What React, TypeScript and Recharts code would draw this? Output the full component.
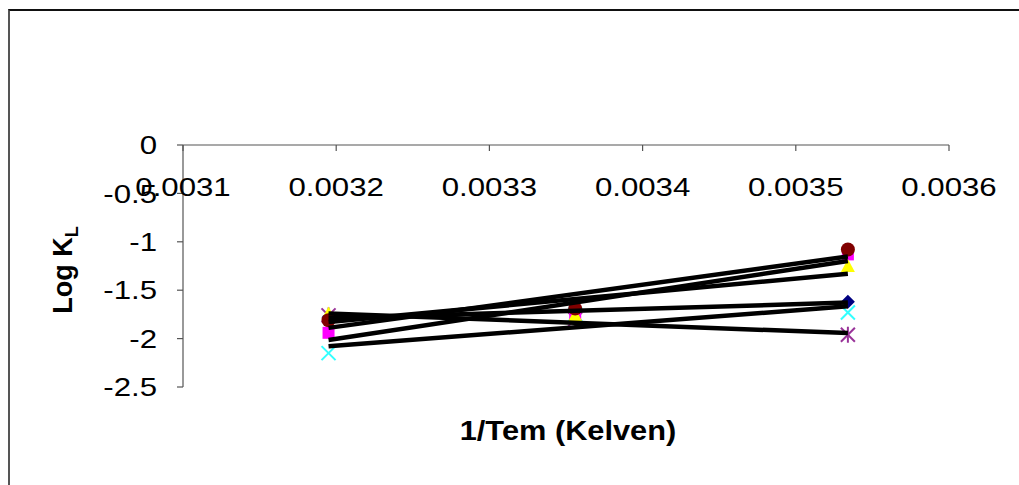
import { ScatterChart, Scatter, XAxis, YAxis, Label } from "recharts";

// 1/T for 313 K, 298 K, 283 K
const invTemp = [0.003195, 0.003356, 0.003534];

const diamondVals = [-1.78, -1.73, -1.62];
const crossVals = [-2.15, -1.75, -1.73];
const starVals = [-1.76, -1.8, -1.96];
const squareVals = [-1.94, -1.77, -1.13];
const triangleVals = [-1.74, -1.76, -1.25];
const circleVals = [-1.81, -1.69, -1.08];

const xTicks = [0.0031, 0.0032, 0.0033, 0.0034, 0.0035, 0.0036];
const yTicks = [0, -0.5, -1, -1.5, -2, -2.5];

const toPts = (vals: number[]) => vals.map((y, i) => ({ x: invTemp[i], y }));

const FONT = "'Liberation Sans', Arial, sans-serif";

const Diamond = (p: any) => (
  <polygon
    points={`${p.cx},${p.cy - 7} ${p.cx + 7},${p.cy} ${p.cx},${p.cy + 7} ${p.cx - 7},${p.cy}`}
    fill="#000080"
  />
);
const Square = (p: any) => (
  <rect x={p.cx - 6} y={p.cy - 6} width={12} height={12} fill="#ff00ff" />
);
const Triangle = (p: any) => (
  <polygon
    points={`${p.cx},${p.cy - 7} ${p.cx + 7},${p.cy + 6} ${p.cx - 7},${p.cy + 6}`}
    fill="#ffff00"
  />
);
const Cross = (p: any) => (
  <g stroke="#33ffff" strokeWidth={2}>
    <line x1={p.cx - 7} y1={p.cy - 7} x2={p.cx + 7} y2={p.cy + 7} />
    <line x1={p.cx - 7} y1={p.cy + 7} x2={p.cx + 7} y2={p.cy - 7} />
  </g>
);
const Star = (p: any) => (
  <g stroke="#993399" strokeWidth={2}>
    <line x1={p.cx - 7} y1={p.cy - 7} x2={p.cx + 7} y2={p.cy + 7} />
    <line x1={p.cx - 7} y1={p.cy + 7} x2={p.cx + 7} y2={p.cy - 7} />
    <line x1={p.cx} y1={p.cy - 8} x2={p.cx} y2={p.cy + 8} />
  </g>
);
const Circle = (p: any) => <circle cx={p.cx} cy={p.cy} r={7} fill="#800000" />;
const Nothing = () => <g />;

const XTick = ({ x, y, payload }: any) => (
  <text
    transform={`translate(${x},${y + 43}) scale(1.2,1)`}
    textAnchor="middle"
    fontSize={26}
    fontFamily={FONT}
    fill="#000"
  >
    {Number(payload.value).toFixed(4)}
  </text>
);

const YTick = ({ x, y, payload }: any) => (
  <text
    transform={`translate(${x},${y}) scale(1.2,1)`}
    textAnchor="end"
    dy="0.35em"
    fontSize={26}
    fontFamily={FONT}
    fill="#000"
  >
    {String(payload.value)}
  </text>
);

const YTitle = ({ viewBox }: any) => {
  const cx = viewBox.x + 72;
  const cy = viewBox.y + viewBox.height / 2 + 4;
  return (
    <text
      transform={`translate(${cx},${cy}) rotate(-90)`}
      textAnchor="middle"
      fontSize={27}
      fontWeight="bold"
      fontFamily={FONT}
      fill="#000"
    >
      Log K
      <tspan fontSize={18} dy={6}>
        L
      </tspan>
    </text>
  );
};

const series = [
  { vals: diamondVals, shape: Diamond },
  { vals: crossVals, shape: Cross },
  { vals: starVals, shape: Star },
  { vals: squareVals, shape: Square },
  { vals: triangleVals, shape: Triangle },
  { vals: circleVals, shape: Circle },
];

export default function App() {
  return (
    <div
      style={{
        position: "fixed",
        left: 0,
        top: 0,
        width: 1019,
        height: 485,
        background: "#fff",
      }}
    >
      <div
        style={{
          position: "absolute",
          left: 8,
          top: 9,
          right: 0,
          bottom: 0,
          borderTop: "2px solid #111",
          borderLeft: "2px solid #555",
        }}
      />
      <div style={{ position: "absolute", left: 0, top: 0 }}>
        <ScatterChart
          width={1019}
          height={485}
          margin={{ top: 145, right: 70, bottom: 98, left: 0 }}
        >
          <XAxis
            type="number"
            dataKey="x"
            orientation="top"
            mirror
            height={1}
            domain={[0.0031, 0.0036]}
            ticks={xTicks}
            allowDataOverflow
            axisLine={{ stroke: "#555", strokeWidth: 1.2 }}
            tickLine={{ stroke: "#555", strokeWidth: 1.2 }}
            tickSize={6}
            tick={<XTick />}
            interval={0}
          />
          <YAxis
            type="number"
            dataKey="y"
            width={183}
            domain={[-2.5, 0]}
            ticks={yTicks}
            allowDataOverflow
            axisLine={{ stroke: "#555", strokeWidth: 1.2 }}
            tickLine={{ stroke: "#555", strokeWidth: 1.2 }}
            tickSize={6}
            tickMargin={20}
            tick={<YTick />}
            interval={0}
          >
            <Label content={<YTitle />} />
          </YAxis>
          {series.map((s, i) => (
            <Scatter
              key={`m${i}`}
              data={toPts(s.vals)}
              shape={s.shape}
              isAnimationActive={false}
            />
          ))}
          {series.map((s, i) => (
            <Scatter
              key={`t${i}`}
              data={toPts(s.vals)}
              shape={Nothing}
              line={{ stroke: "#000", strokeWidth: 4.5 }}
              lineType="fitting"
              isAnimationActive={false}
            />
          ))}
          <text
            x={568}
            y={440}
            textAnchor="middle"
            fontSize={27}
            fontWeight="bold"
            fontFamily={FONT}
            fill="#000"
            transform="translate(568,0) scale(1.14,1) translate(-568,0)"
          >
            1/Tem (Kelven)
          </text>
        </ScatterChart>
      </div>
    </div>
  );
}
